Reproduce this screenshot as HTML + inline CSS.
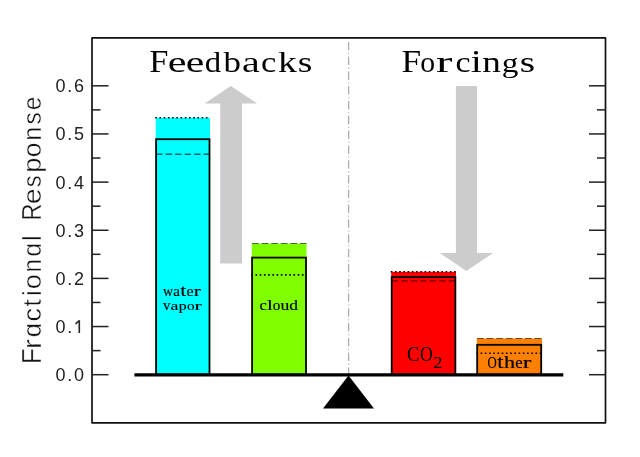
<!DOCTYPE html><html><head><meta charset="utf-8"><style>html,body{margin:0;padding:0;background:#fff;}svg{display:block;will-change:transform;}</style></head><body>
<svg width="640" height="457" viewBox="0 0 640 457">
<rect x="0" y="0" width="640" height="457" fill="#fff"/>
<polygon points="230.9,86 257.1,103.5 242,103.5 242,263.6 220.2,263.6 220.2,103.5 204.6,103.5" fill="#cccccc"/>
<polygon points="455.9,85.9 477,85.9 477,253.1 492.9,253.1 466.4,271 439.8,253.1 455.9,253.1" fill="#cccccc"/>
<line x1="348.7" y1="41.9" x2="348.7" y2="374" stroke="#999" stroke-width="1" stroke-dasharray="8.3 2.75 1 2.75"/>
<rect x="155.7" y="117.8" width="54.30" height="256.90" fill="#00ffff"/>
<line x1="155.25" y1="117.8" x2="210.0" y2="117.8" stroke="#000" stroke-width="1.6" stroke-dasharray="1.6 2.62"/>
<line x1="156.10" y1="154.3" x2="209.5" y2="154.3" stroke="#000" stroke-opacity="0.6" stroke-width="1.4" stroke-dasharray="6.5 3.0"/>
<rect x="156.1" y="139.2" width="53.40" height="235.50" fill="none" stroke="#000" stroke-width="1.8"/>
<rect x="251.8" y="243.5" width="54.70" height="131.20" fill="#80ff00"/>
<line x1="252.00" y1="243.5" x2="306.5" y2="243.5" stroke="#000" stroke-opacity="0.6" stroke-width="1.2" stroke-dasharray="6.8 2.8"/>
<line x1="251.30" y1="274.85" x2="306.0" y2="274.85" stroke="#000" stroke-width="1.6" stroke-dasharray="1.6 2.62"/>
<rect x="252.1" y="257.6" width="53.90" height="117.10" fill="none" stroke="#000" stroke-width="1.8"/>
<rect x="391.2" y="271.8" width="64.80" height="102.90" fill="#ff0000"/>
<line x1="390.75" y1="271.8" x2="456.0" y2="271.8" stroke="#000" stroke-width="1.6" stroke-dasharray="1.6 2.62"/>
<line x1="391.70" y1="280.9" x2="455.35" y2="280.9" stroke="#000" stroke-opacity="0.6" stroke-width="1.4" stroke-dasharray="6.5 3.0"/>
<rect x="391.7" y="277.1" width="63.65" height="97.60" fill="none" stroke="#000" stroke-width="1.8"/>
<rect x="476.8" y="338.5" width="65.20" height="36.20" fill="#ff8000"/>
<line x1="477.00" y1="338.5" x2="542.0" y2="338.5" stroke="#000" stroke-opacity="0.6" stroke-width="1.2" stroke-dasharray="6.8 2.8"/>
<line x1="476.40" y1="353.25" x2="541.2" y2="353.25" stroke="#000" stroke-width="1.6" stroke-dasharray="1.6 2.62"/>
<rect x="477.2" y="344.8" width="64.00" height="29.90" fill="none" stroke="#000" stroke-width="1.8"/>
<line x1="134.4" y1="374.8" x2="563.3" y2="374.8" stroke="#000" stroke-width="3.3"/>
<polygon points="348.5,375.5 374,408.6 323,408.6" fill="#000"/>
<rect x="92" y="37.9" width="513.5" height="384.9" fill="none" stroke="#111" stroke-width="1.7" stroke-linejoin="round"/>
<line x1="92" y1="374.70" x2="108.5" y2="374.70" stroke="#222" stroke-width="1.5"/>
<line x1="589.0" y1="374.70" x2="605.5" y2="374.70" stroke="#222" stroke-width="1.5"/>
<line x1="92" y1="350.62" x2="100.5" y2="350.62" stroke="#222" stroke-width="1.5"/>
<line x1="597.0" y1="350.62" x2="605.5" y2="350.62" stroke="#222" stroke-width="1.5"/>
<line x1="92" y1="326.55" x2="108.5" y2="326.55" stroke="#222" stroke-width="1.5"/>
<line x1="589.0" y1="326.55" x2="605.5" y2="326.55" stroke="#222" stroke-width="1.5"/>
<line x1="92" y1="302.47" x2="100.5" y2="302.47" stroke="#222" stroke-width="1.5"/>
<line x1="597.0" y1="302.47" x2="605.5" y2="302.47" stroke="#222" stroke-width="1.5"/>
<line x1="92" y1="278.40" x2="108.5" y2="278.40" stroke="#222" stroke-width="1.5"/>
<line x1="589.0" y1="278.40" x2="605.5" y2="278.40" stroke="#222" stroke-width="1.5"/>
<line x1="92" y1="254.32" x2="100.5" y2="254.32" stroke="#222" stroke-width="1.5"/>
<line x1="597.0" y1="254.32" x2="605.5" y2="254.32" stroke="#222" stroke-width="1.5"/>
<line x1="92" y1="230.25" x2="108.5" y2="230.25" stroke="#222" stroke-width="1.5"/>
<line x1="589.0" y1="230.25" x2="605.5" y2="230.25" stroke="#222" stroke-width="1.5"/>
<line x1="92" y1="206.17" x2="100.5" y2="206.17" stroke="#222" stroke-width="1.5"/>
<line x1="597.0" y1="206.17" x2="605.5" y2="206.17" stroke="#222" stroke-width="1.5"/>
<line x1="92" y1="182.10" x2="108.5" y2="182.10" stroke="#222" stroke-width="1.5"/>
<line x1="589.0" y1="182.10" x2="605.5" y2="182.10" stroke="#222" stroke-width="1.5"/>
<line x1="92" y1="158.02" x2="100.5" y2="158.02" stroke="#222" stroke-width="1.5"/>
<line x1="597.0" y1="158.02" x2="605.5" y2="158.02" stroke="#222" stroke-width="1.5"/>
<line x1="92" y1="133.95" x2="108.5" y2="133.95" stroke="#222" stroke-width="1.5"/>
<line x1="589.0" y1="133.95" x2="605.5" y2="133.95" stroke="#222" stroke-width="1.5"/>
<line x1="92" y1="109.87" x2="100.5" y2="109.87" stroke="#222" stroke-width="1.5"/>
<line x1="597.0" y1="109.87" x2="605.5" y2="109.87" stroke="#222" stroke-width="1.5"/>
<line x1="92" y1="85.80" x2="108.5" y2="85.80" stroke="#222" stroke-width="1.5"/>
<line x1="589.0" y1="85.80" x2="605.5" y2="85.80" stroke="#222" stroke-width="1.5"/>
<text x="60.5 69.8 79.1" y="381.10" font-family="Liberation Sans" font-size="18" text-anchor="middle" fill="#222">0.0</text>
<text x="60.5 69.8" y="332.95" font-family="Liberation Sans" font-size="18" text-anchor="middle" fill="#222">0.</text>
<path d="M79.3,333.05 L79.3,320.95 L78.6,320.95 L75.6,323.95" fill="none" stroke="#222" stroke-width="1.6" stroke-linejoin="miter"/>
<text x="60.5 69.8 79.1" y="284.80" font-family="Liberation Sans" font-size="18" text-anchor="middle" fill="#222">0.2</text>
<text x="60.5 69.8 79.1" y="236.65" font-family="Liberation Sans" font-size="18" text-anchor="middle" fill="#222">0.3</text>
<text x="60.5 69.8 79.1" y="188.50" font-family="Liberation Sans" font-size="18" text-anchor="middle" fill="#222">0.4</text>
<text x="60.5 69.8 79.1" y="140.35" font-family="Liberation Sans" font-size="18" text-anchor="middle" fill="#222">0.5</text>
<text x="60.5 69.8 79.1" y="92.20" font-family="Liberation Sans" font-size="18" text-anchor="middle" fill="#222">0.6</text>
<text transform="translate(41.20,363.91) rotate(-90) scale(0.992,1.070)" font-family="Liberation Sans" font-size="26" fill="#111" stroke="#fff" stroke-width="0.4">F</text>
<text transform="translate(41.20,348.97) rotate(-90) scale(1.138,0.980)" font-family="Liberation Sans" font-size="26" fill="#111" stroke="#fff" stroke-width="0.4">r</text>
<text transform="translate(41.20,337.18) rotate(-90) scale(0.992,0.980)" font-family="Liberation Sans" font-size="26" fill="#111" stroke="#fff" stroke-width="0.4">ɑ</text>
<text transform="translate(41.20,321.44) rotate(-90) scale(1.035,0.980)" font-family="Liberation Sans" font-size="26" fill="#111" stroke="#fff" stroke-width="0.4">c</text>
<text transform="translate(41.20,306.40) rotate(-90) scale(1.009,0.980)" font-family="Liberation Sans" font-size="26" fill="#111" stroke="#fff" stroke-width="0.4">t</text>
<text transform="translate(41.20,296.08) rotate(-90) scale(1.000,0.980)" font-family="Liberation Sans" font-size="26" fill="#111" stroke="#fff" stroke-width="0.4">i</text>
<text transform="translate(41.20,289.15) rotate(-90) scale(1.051,0.980)" font-family="Liberation Sans" font-size="26" fill="#111" stroke="#fff" stroke-width="0.4">o</text>
<text transform="translate(41.20,272.43) rotate(-90) scale(0.942,0.980)" font-family="Liberation Sans" font-size="26" fill="#111" stroke="#fff" stroke-width="0.4">n</text>
<text transform="translate(41.20,256.66) rotate(-90) scale(0.966,0.980)" font-family="Liberation Sans" font-size="26" fill="#111" stroke="#fff" stroke-width="0.4">ɑ</text>
<text transform="translate(41.20,241.09) rotate(-90) scale(1.000,0.980)" font-family="Liberation Sans" font-size="26" fill="#111" stroke="#fff" stroke-width="0.4">l</text>
<text transform="translate(41.20,220.85) rotate(-90) scale(0.913,1.070)" font-family="Liberation Sans" font-size="26" fill="#111" stroke="#fff" stroke-width="0.4">R</text>
<text transform="translate(41.20,204.21) rotate(-90) scale(1.098,0.980)" font-family="Liberation Sans" font-size="26" fill="#111" stroke="#fff" stroke-width="0.4">e</text>
<text transform="translate(41.20,187.16) rotate(-90) scale(0.917,0.980)" font-family="Liberation Sans" font-size="26" fill="#111" stroke="#fff" stroke-width="0.4">s</text>
<text transform="translate(41.20,172.65) rotate(-90) scale(1.043,0.980)" font-family="Liberation Sans" font-size="26" fill="#111" stroke="#fff" stroke-width="0.4">p</text>
<text transform="translate(41.20,157.21) rotate(-90) scale(1.018,0.980)" font-family="Liberation Sans" font-size="26" fill="#111" stroke="#fff" stroke-width="0.4">o</text>
<text transform="translate(41.20,140.64) rotate(-90) scale(0.951,0.980)" font-family="Liberation Sans" font-size="26" fill="#111" stroke="#fff" stroke-width="0.4">n</text>
<text transform="translate(41.20,124.39) rotate(-90) scale(0.953,0.980)" font-family="Liberation Sans" font-size="26" fill="#111" stroke="#fff" stroke-width="0.4">s</text>
<text transform="translate(41.20,110.13) rotate(-90) scale(0.934,0.980)" font-family="Liberation Sans" font-size="26" fill="#111" stroke="#fff" stroke-width="0.4">e</text>
<text transform="translate(149.31,71.60) scale(1.147,1.033)" font-family="Liberation Serif" font-size="30" fill="#000" >F</text>
<text transform="translate(167.75,71.60) scale(1.405,1.005)" font-family="Liberation Serif" font-size="30" fill="#000" >e</text>
<text transform="translate(185.77,71.60) scale(1.387,1.005)" font-family="Liberation Serif" font-size="30" fill="#000" >e</text>
<text transform="translate(204.72,71.60) scale(1.092,0.970)" font-family="Liberation Serif" font-size="30" fill="#000" >d</text>
<text transform="translate(223.40,71.60) scale(1.162,0.970)" font-family="Liberation Serif" font-size="30" fill="#000" >b</text>
<text transform="translate(242.09,71.60) scale(1.333,1.009)" font-family="Liberation Serif" font-size="30" fill="#000" >a</text>
<text transform="translate(260.99,71.60) scale(1.147,1.005)" font-family="Liberation Serif" font-size="30" fill="#000" >c</text>
<text transform="translate(277.98,71.60) scale(1.254,0.970)" font-family="Liberation Serif" font-size="30" fill="#000" >k</text>
<text transform="translate(297.66,71.60) scale(1.250,1.005)" font-family="Liberation Serif" font-size="30" fill="#000" >s</text>
<text transform="translate(401.39,71.80) scale(1.174,1.044)" font-family="Liberation Serif" font-size="30" fill="#000" >F</text>
<text transform="translate(420.17,71.80) scale(0.991,0.990)" font-family="Liberation Serif" font-size="30" fill="#000" >o</text>
<text transform="translate(436.01,71.80) scale(1.644,0.990)" font-family="Liberation Serif" font-size="30" fill="#000" >r</text>
<text transform="translate(455.41,71.80) scale(1.129,0.990)" font-family="Liberation Serif" font-size="30" fill="#000" >c</text>
<text transform="translate(470.66,71.80) scale(1.332,1.027)" font-family="Liberation Serif" font-size="30" fill="#000" >i</text>
<text transform="translate(482.15,71.80) scale(1.241,0.990)" font-family="Liberation Serif" font-size="30" fill="#000" >n</text>
<text transform="translate(501.67,71.80) scale(1.111,0.909)" font-family="Liberation Serif" font-size="30" fill="#000" >g</text>
<text transform="translate(519.68,71.80) scale(1.314,0.990)" font-family="Liberation Serif" font-size="30" fill="#000" >s</text>
<text transform="translate(162.99,295.80) scale(0.996,1.043)" font-family="Liberation Serif" font-size="14" fill="#000" stroke="#000" stroke-width="0.15">w</text>
<text transform="translate(173.27,295.80) scale(1.067,1.020)" font-family="Liberation Serif" font-size="14" fill="#000" stroke="#000" stroke-width="0.15">a</text>
<text transform="translate(180.61,295.80) scale(1.417,1.180)" font-family="Liberation Serif" font-size="14" fill="#000" stroke="#000" stroke-width="0.15">t</text>
<text transform="translate(186.58,295.80) scale(1.139,1.016)" font-family="Liberation Serif" font-size="14" fill="#000" stroke="#000" stroke-width="0.15">e</text>
<text transform="translate(193.78,295.80) scale(1.503,1.016)" font-family="Liberation Serif" font-size="14" fill="#000" stroke="#000" stroke-width="0.15">r</text>
<text transform="translate(163.00,309.50) scale(1.057,0.980)" font-family="Liberation Serif" font-size="14" fill="#000" stroke="#000" stroke-width="0.15">v</text>
<text transform="translate(170.58,309.50) scale(1.266,0.959)" font-family="Liberation Serif" font-size="14" fill="#000" stroke="#000" stroke-width="0.15">a</text>
<text transform="translate(178.75,309.50) scale(1.124,0.955)" font-family="Liberation Serif" font-size="14" fill="#000" stroke="#000" stroke-width="0.15">p</text>
<text transform="translate(186.92,309.50) scale(1.079,0.955)" font-family="Liberation Serif" font-size="14" fill="#000" stroke="#000" stroke-width="0.15">o</text>
<text transform="translate(194.56,309.50) scale(1.573,0.955)" font-family="Liberation Serif" font-size="14" fill="#000" stroke="#000" stroke-width="0.15">r</text>
<text transform="translate(259.38,309.70) scale(1.162,0.970)" font-family="Liberation Serif" font-size="14" fill="#000" stroke="#000" stroke-width="0.15">c</text>
<text transform="translate(267.08,309.70) scale(1.502,0.988)" font-family="Liberation Serif" font-size="14" fill="#000" stroke="#000" stroke-width="0.15">l</text>
<text transform="translate(272.72,309.70) scale(1.079,0.970)" font-family="Liberation Serif" font-size="14" fill="#000" stroke="#000" stroke-width="0.15">o</text>
<text transform="translate(280.57,309.70) scale(1.262,0.996)" font-family="Liberation Serif" font-size="14" fill="#000" stroke="#000" stroke-width="0.15">u</text>
<text transform="translate(289.17,309.70) scale(1.249,0.988)" font-family="Liberation Serif" font-size="14" fill="#000" stroke="#000" stroke-width="0.15">d</text>
<text transform="translate(487.57,368.00) scale(0.915,1.176)" font-family="Liberation Serif" font-size="14" fill="#000" stroke="#000" stroke-width="0.15">O</text>
<text transform="translate(497.28,368.00) scale(1.607,1.383)" font-family="Liberation Serif" font-size="14" fill="#000" stroke="#000" stroke-width="0.15">t</text>
<text transform="translate(503.88,368.00) scale(1.587,1.153)" font-family="Liberation Serif" font-size="14" fill="#000" stroke="#000" stroke-width="0.15">h</text>
<text transform="translate(515.25,368.00) scale(1.197,1.122)" font-family="Liberation Serif" font-size="14" fill="#000" stroke="#000" stroke-width="0.15">e</text>
<text transform="translate(522.79,368.00) scale(1.832,1.122)" font-family="Liberation Serif" font-size="14" fill="#000" stroke="#000" stroke-width="0.15">r</text>
<text transform="translate(407.04,360.90) scale(0.929,1.050)" font-family="Liberation Serif" font-size="20" fill="#000" >C</text>
<text transform="translate(419.98,360.90) scale(0.883,1.050)" font-family="Liberation Serif" font-size="20" fill="#000" >O</text>
<text transform="translate(433.19,368.00) scale(1.231,1.047)" font-family="Liberation Serif" font-size="15" fill="#000" >2</text>
</svg></body></html>
